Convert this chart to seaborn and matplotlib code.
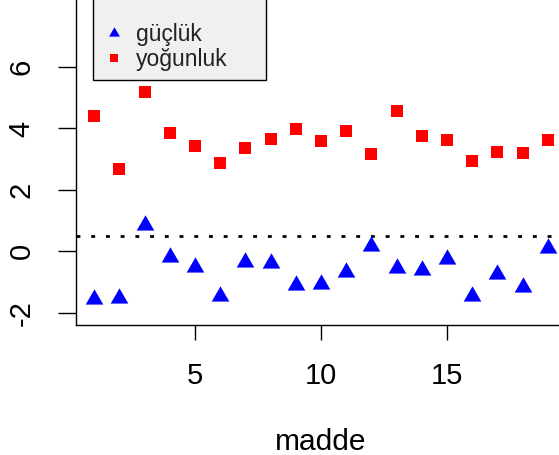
import numpy as np
import pandas as pd
import matplotlib
matplotlib.use("Agg")
import matplotlib.pyplot as plt
from matplotlib.lines import Line2D
from matplotlib.patches import Rectangle
import seaborn as sns

# ---- data ----
madde = list(range(1, 20))
gucluk = [-1.55, -1.52, 0.87, -0.18, -0.50, -1.45, -0.36, -0.38, -1.09, -1.07,
          -0.67, 0.18, -0.55, -0.60, -0.24, -1.45, -0.74, -1.17, 0.10]
yogunluk = [4.42, 2.69, 5.18, 3.84, 3.44, 2.87, 3.37, 3.67, 3.97, 3.58,
            3.92, 3.17, 4.58, 3.76, 3.64, 2.94, 3.22, 3.20, 3.61]
threshold = 0.5
series_labels = ["güçlük", "yoğunluk"]
x_label = "madde"
x_ticks = [5, 10, 15]
y_ticks = [-2, 0, 2, 4, 6]

df = pd.DataFrame({"madde": madde, "gucluk": gucluk, "yogunluk": yogunluk})

sns.set_theme(style="white")
plt.rcParams["font.family"] = ["Liberation Sans", "DejaVu Sans"]

fig = plt.figure(figsize=(5.59, 4.55), dpi=100)
W, H = 559, 455
# axes in pixel geometry (extends past top/right of the figure, like the cropped original)
x0, x1 = 76, 565.9
y_bot, y_top = 325, -6.6
ax = fig.add_axes([x0 / W, (H - y_bot) / H, (x1 - x0) / W, (y_bot - y_top) / H])

# R-style centroid-centred filled triangle (pch 17)
tri = [(0.0, 1.0), (-0.8660, -0.5), (0.8660, -0.5), (0.0, 1.0)]

sns.scatterplot(data=df, x="madde", y="gucluk", ax=ax, color="#0000ff",
                marker=tri, s=215, linewidth=0, zorder=3)
sns.scatterplot(data=df, x="madde", y="yogunluk", ax=ax, color="#ff0000",
                marker="s", s=83, linewidth=0, zorder=3)

ax.axhline(threshold, color="black", linewidth=2.0,
           linestyle=(0, (1.4, 3.9)), zorder=2)

ax.set_xlim(0.28, 19.72)
ax.set_ylim(-2.4, 8.4)
ax.set_xticks(x_ticks)
ax.set_yticks(y_ticks)
ax.set_xticklabels([str(t) for t in x_ticks])
ax.set_yticklabels([str(t) for t in y_ticks], rotation=90, va="center")

for sp in ax.spines.values():
    sp.set_color("black")
    sp.set_linewidth(1.0)
    sp.set_visible(True)

ax.tick_params(axis="x", length=10.8, width=1.0, pad=16, labelsize=21,
               colors="black", direction="out", bottom=True)
ax.tick_params(axis="y", length=13, width=1.0, pad=16, labelsize=21,
               colors="black", direction="out", left=True)
ax.set_xlabel(x_label, fontsize=21.5, labelpad=27, color="black")
ax.set_ylabel("")

# legend box (R style, grey fill, square corners)
def px2ax(px, py):
    return (px - x0) / (x1 - x0), (y_bot - py) / (y_bot - y_top)

bx0, by0 = px2ax(93.3, 80)
bx1, _ = px2ax(265.7, 80)
ax.add_patch(Rectangle((bx0, by0), bx1 - bx0, 1.2 - by0, transform=ax.transAxes,
                       facecolor="#f0f0f0", edgecolor="black", linewidth=1.0,
                       clip_on=False, zorder=4))

handles = [
    Line2D([], [], linestyle="none", marker=tri, markersize=9, color="#0000ff",
           markeredgewidth=0),
    Line2D([], [], linestyle="none", marker="s", markersize=6, color="#ff0000",
           markeredgewidth=0),
]
lx, ly = px2ax(102.5, 47)
leg = ax.legend(handles, series_labels, loc="center left", bbox_to_anchor=(lx, ly),
                frameon=False, fontsize=16.5, handlelength=1.0, handletextpad=0.45,
                borderpad=0, borderaxespad=0, labelspacing=0.1)
leg.set_zorder(5)
for t in leg.get_texts():
    t.set_color("#222222")

fig.savefig("out.png", dpi=100)
